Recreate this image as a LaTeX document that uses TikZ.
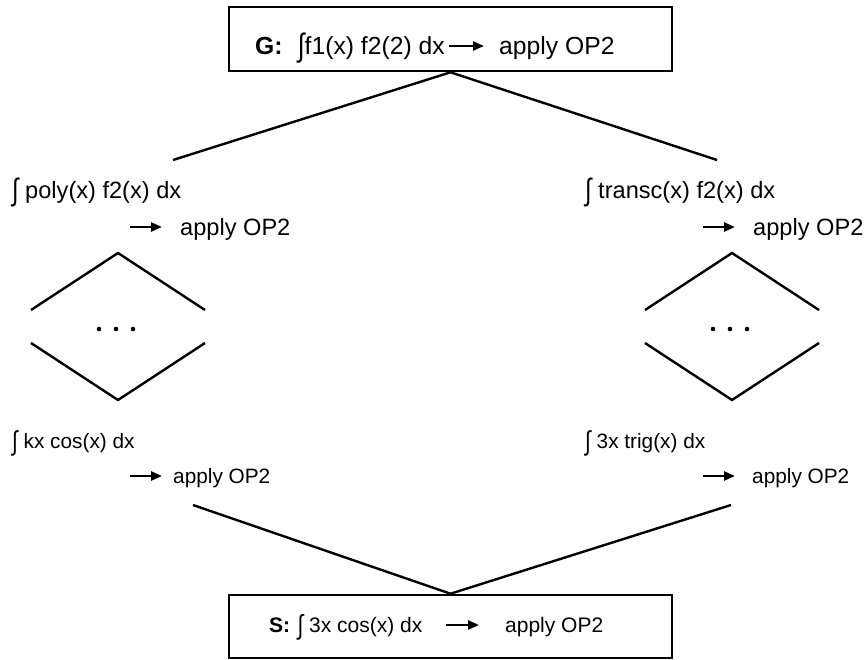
\documentclass[tikz,border=0pt]{standalone}
\usepackage{fontspec}
\usepackage{graphicx}
\setmainfont{Liberation Sans}
\usetikzlibrary{arrows.meta, positioning}

\newcommand{\tint}{\raisebox{-0.12em}{\scalebox{1}[1.3]{∫}}}

\tikzset{
  stepline/.style={line width=2.4pt, line cap=butt},
  goalbox/.style={draw, line width=2.6pt, minimum width=443pt, minimum height=64pt, inner sep=0pt},
  boxtext/.style={inner sep=0pt, anchor=base west, font=\fontsize{24.7}{30}\selectfont},
  soltext/.style={inner sep=0pt, anchor=base west, font=\fontsize{21}{25}\selectfont},
  lblbig/.style={inner sep=0pt, anchor=base west, font=\fontsize{23.6}{28}\selectfont},
  lblsmall/.style={inner sep=0pt, anchor=base west, font=\fontsize{20.8}{25}\selectfont},
  opar/.style={line width=2.4pt, -{Triangle[length=11pt, width=9pt]}},
}

\begin{document}
\begin{tikzpicture}[x=1pt, y=-1pt]
  \useasboundingbox (0,0) rectangle (866,659);

  % goal at the top
  \node[goalbox] (goal) at (450.5,39) {};
  \node[boxtext] (goalint) at (255,54) {\textbf{G:}\hspace{0.62em}\tint f1(x) f2(2) dx};
  \node[boxtext] (goalop) at (499,54) {apply OP2};
  \coordinate (goalarr) at (449,46);
  \draw[opar] (goalarr) -- ([xshift=-15pt]goalarr -| goalop.west);

  % first split
  \node[lblbig] (poly) at (12,198) {\tint\ poly(x) f2(x) dx};
  \node[lblbig] (polyop) at (180,235) {apply OP2};
  \coordinate (polyarr) at (130,227);
  \draw[opar] (polyarr) -- ([xshift=-18pt]polyarr -| polyop.west);

  \node[lblbig] (transc) at (585,198) {\tint\ transc(x) f2(x) dx};
  \node[lblbig] (transcop) at (753,235) {apply OP2};
  \coordinate (transcarr) at (703,227);
  \draw[opar] (transcarr) -- ([xshift=-18pt]transcarr -| transcop.west);

  \coordinate (polyend) at (173,160);
  \coordinate (transcend) at (717,160);
  \draw[stepline] (polyend) -- (goal.south) -- (transcend);

  % the steps in between
  \foreach \cx in {118,732} {
    \draw[stepline] ({\cx-87},310) -- (\cx,253) -- ({\cx+87},310);
    \draw[stepline] ({\cx-87},343) -- (\cx,400) -- ({\cx+87},343);
    \foreach \dx in {-17,0,17}
      \fill ({\cx-2+\dx},329) circle (2.3pt);
  }

  % second level
  \node[lblsmall] (kxcos) at (12,448) {\tint\ kx cos(x) dx};
  \node[lblsmall] (kxcosop) at (173,483) {apply OP2};
  \coordinate (kxcosarr) at (130,476);
  \draw[opar] (kxcosarr) -- ([xshift=-11pt]kxcosarr -| kxcosop.west);

  \node[lblsmall] (trig) at (585,448) {\tint\ 3x trig(x) dx};
  \node[lblsmall] (trigop) at (752,483) {apply OP2};
  \coordinate (trigarr) at (703,476);
  \draw[opar] (trigarr) -- ([xshift=-17pt]trigarr -| trigop.west);

  % solution at the bottom
  \node[goalbox, minimum height=63pt] (sol) at (450.5,626.5) {};
  \node[soltext] (solint) at (269,632) {\textbf{S:}\hspace{0.35em}\tint\ 3x cos(x) dx};
  \node[soltext] (solop) at (505,632) {apply OP2};
  \coordinate (solarr) at (446,625);
  \draw[opar] (solarr) -- ([xshift=-26pt]solarr -| solop.west);

  \coordinate (kxend) at (193,505);
  \coordinate (trigend) at (731,505);
  \draw[stepline] (kxend) -- (sol.north) -- (trigend);
\end{tikzpicture}
\end{document}
